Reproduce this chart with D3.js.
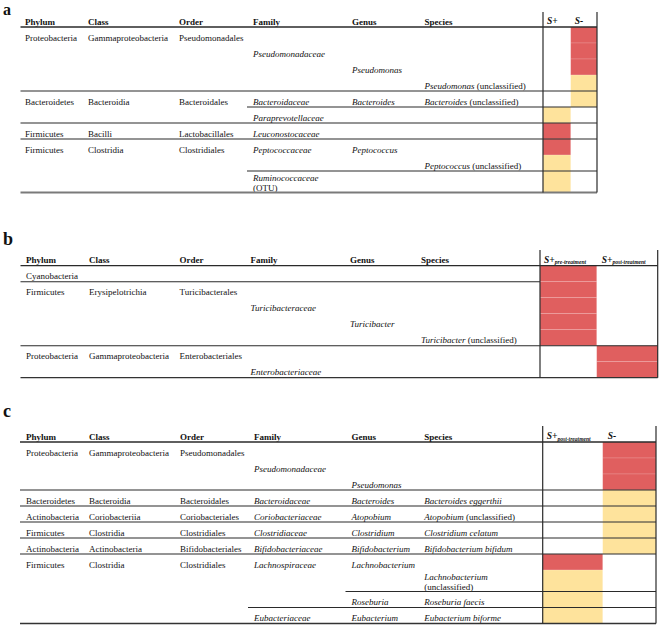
<!DOCTYPE html>
<html><head><meta charset="utf-8">
<script src="https://cdn.jsdelivr.net/npm/d3@7"></script>
<style>
body{margin:0;background:#fff}
svg{display:block}
text{font-family:"Liberation Serif","Times New Roman",Times,serif;fill:#111}
</style>
</head><body>
<svg id="chart" width="660" height="628"></svg>
<script>
// ---------- DATA ----------
const ranks = ["Phylum","Class","Order","Family","Genus","Species"];

// Panel a
const aTaxa = [
  ["Proteobacteria","Gammaproteobacteria","Pseudomonadales","","",""],
  ["","","","Pseudomonadaceae","",""],
  ["","","","","Pseudomonas",""],
  ["","","","","","Pseudomonas (unclassified)"],
  ["Bacteroidetes","Bacteroidia","Bacteroidales","Bacteroidaceae","Bacteroides","Bacteroides (unclassified)"],
  ["","","","Paraprevotellaceae","",""],
  ["Firmicutes","Bacilli","Lactobacillales","Leuconostocaceae","",""],
  ["Firmicutes","Clostridia","Clostridiales","Peptococcaceae","Peptococcus",""],
  ["","","","","","Peptococcus (unclassified)"],
  ["","","","Ruminococcaceae\n(OTU)","",""]
];
const aGroups = ["S+","S-"];
const aGroupSubs = ["",""];
const aSPlus  = [0,0,0,0,0,1,2,2,1,1];   // 1 = yellow, 2 = red
const aSMinus = [2,2,2,1,1,0,0,0,0,0];
const aRules = [[3,0,true],[4,3,true],[5,0,true],[6,0,true],[8,3,true]]; // [after row, from rank, through S columns]

// Panel b
const bTaxa = [
  ["Cyanobacteria","","","","",""],
  ["Firmicutes","Erysipelotrichia","Turicibacterales","","",""],
  ["","","","Turicibacteraceae","",""],
  ["","","","","Turicibacter",""],
  ["","","","","","Turicibacter (unclassified)"],
  ["Proteobacteria","Gammaproteobacteria","Enterobacteriales","","",""],
  ["","","","Enterobacteriaceae","",""]
];
const bGroups = ["S+","S+"];
const bGroupSubs = ["pre-treatment","post-treatment"];
const bPre  = [2,2,2,2,2,0,0];
const bPost = [0,0,0,0,0,2,2];
const bRules = [[0,0,false],[4,0,true]];

// Panel c
const cTaxa = [
  ["Proteobacteria","Gammaproteobacteria","Pseudomonadales","","",""],
  ["","","","Pseudomonadaceae","",""],
  ["","","","","Pseudomonas",""],
  ["Bacteroidetes","Bacteroidia","Bacteroidales","Bacteroidaceae","Bacteroides","Bacteroides eggerthii"],
  ["Actinobacteria","Coriobacteriia","Coriobacteriales","Coriobacteriaceae","Atopobium","Atopobium (unclassified)"],
  ["Firmicutes","Clostridia","Clostridiales","Clostridiaceae","Clostridium","Clostridium celatum"],
  ["Actinobacteria","Actinobacteria","Bifidobacteriales","Bifidobacteriaceae","Bifidobacterium","Bifidobacterium bifidum"],
  ["Firmicutes","Clostridia","Clostridiales","Lachnospiraceae","Lachnobacterium",""],
  ["","","","","","Lachnobacterium\n(unclassified)"],
  ["","","","","Roseburia","Roseburia faecis"],
  ["","","","Eubacteriaceae","Eubacterium","Eubacterium biforme"]
];
const cGroups = ["S+","S-"];
const cGroupSubs = ["post-treatment",""];
const cPost   = [0,0,0,0,0,0,0,2,1,1,1];
const cSMinus = [2,2,2,1,1,1,1,0,0,0,0];
const cRules = [[2,0,true],[3,0,true],[4,0,true],[5,0,true],[6,0,true],[8,4,true],[9,3,true]];

// ---------- DRAW ----------
const RED = "#e05f5f", YELLOW = "#fee39c";
const svg = d3.select("#chart");
const color = d3.scaleOrdinal([1,2],[YELLOW,RED]);

function addText(sel, str, italic) {
  const parts = str.split(/(\([^)]*\))/).filter(p => p.length);
  parts.forEach(p => {
    sel.append("tspan").text(p)
      .attr("font-style", italic && !p.startsWith("(") ? "italic" : "normal");
  });
}

function drawPanel(cfg, taxa, vals, groups, subs, rules) {
  const g = svg.append("g");
  const nLines = taxa.map(r => d3.max(r, s => s ? s.split("\n").length : 1));
  const heights = nLines.map(n => 16 + (n - 1) * 5.5);
  const cum = [0, ...d3.cumsum(heights)];
  const total = cum[cum.length - 1];
  const y = d3.scaleLinear().domain([0, total]).range([cfg.headerLine, cfg.headerLine + total]);
  const x = d3.scaleOrdinal(ranks, cfg.colX);
  const sx = d3.scaleLinear().domain([0,1,2]).range(cfg.sx);
  const bottom = y(total);

  // panel label
  g.append("text").attr("x", 3).attr("y", cfg.labelY)
    .attr("font-size", cfg.labelSize).attr("font-weight", "bold").text(cfg.label);

  // coloured cells
  vals.forEach((col, ci) => {
    g.selectAll(null)
      .data(col.map((v, i) => ({v, i})).filter(d => d.v > 0))
      .join("rect")
      .attr("x", sx(ci)).attr("width", sx(ci + 1) - sx(ci))
      .attr("y", d => y(cum[d.i])).attr("height", d => y(cum[d.i + 1]) - y(cum[d.i]))
      .attr("fill", d => color(d.v))
      .attr("stroke", "rgba(255,255,255,0.22)").attr("stroke-width", 0.7);
  });

  // header labels
  g.selectAll(null).data(ranks).join("text")
    .attr("x", d => x(d)).attr("y", cfg.headerLine - 2.5)
    .attr("font-size", 9).attr("font-weight", "bold").text(d => d);

  groups.forEach((lab, i) => {
    const t = g.append("text").attr("x", sx(i) + cfg.sPad[i]).attr("y", cfg.headerLine - 3)
      .attr("font-size", 9.5).attr("font-weight", "bold").attr("font-style", "italic");
    t.append("tspan").text(lab);
    if (subs[i]) t.append("tspan").text(subs[i]).attr("font-size", 5.6).attr("dy", 1.5);
  });

  // body text
  taxa.forEach((row, i) => {
    row.forEach((s, j) => {
      if (!s) return;
      const lines = s.split("\n");
      const last = y(cum[i + 1]) - (lines.length > 1 ? 1.5 : 2.5);
      lines.forEach((ln, k) => {
        const t = g.append("text").attr("x", x(ranks[j]))
          .attr("y", last - (lines.length - 1 - k) * 10)
          .attr("font-size", 9);
        addText(t, ln, j >= 3);
      });
    });
  });

  // rules
  const lineCol = "#2a2a2a";
  g.append("line").attr("x1", cfg.left).attr("x2", sx(2))
    .attr("y1", cfg.headerLine).attr("y2", cfg.headerLine)
    .attr("stroke", lineCol).attr("stroke-width", 1.3);
  rules.forEach(([r, c, full]) => {
    const yy = y(cum[r + 1]);
    g.append("line")
      .attr("x1", c === 0 ? cfg.left : x(ranks[c]) - 6)
      .attr("x2", full ? sx(2) : sx(0))
      .attr("y1", yy).attr("y2", yy)
      .attr("stroke", lineCol).attr("stroke-width", 1.1);
  });
  g.append("line").attr("x1", cfg.left).attr("x2", sx(2))
    .attr("y1", bottom).attr("y2", bottom)
    .attr("stroke", cfg.bottomColor).attr("stroke-width", cfg.bottomWidth);
  [sx(0), sx(2)].forEach(xx => {
    g.append("line").attr("x1", xx).attr("x2", xx)
      .attr("y1", cfg.top).attr("y2", bottom)
      .attr("stroke", lineCol).attr("stroke-width", 1.2);
  });
}

drawPanel({label:"a", labelY:14.5, labelSize:16, top:12, headerLine:27, left:20.5,
  colX:[25,88,179,253,352,424.5], sx:[543,570.7,597], sPad:[4,4],
  bottomColor:"#7a7a7a", bottomWidth:2},
  aTaxa, [aSPlus, aSMinus], aGroups, aGroupSubs, aRules);

drawPanel({label:"b", labelY:245, labelSize:18, top:250, headerLine:265.7, left:20.5,
  colX:[26,89,179.5,250.5,350,421], sx:[540,596.7,657.7], sPad:[4,5],
  bottomColor:"#333", bottomWidth:1.3},
  bTaxa, [bPre, bPost], bGroups, bGroupSubs, bRules);

drawPanel({label:"c", labelY:417, labelSize:18, top:426, headerLine:442, left:20,
  colX:[26,89,180,254,351.5,424.3], sx:[542.7,602.7,656], sPad:[4,5],
  bottomColor:"#333", bottomWidth:1.3},
  cTaxa, [cPost, cSMinus], cGroups, cGroupSubs, cRules);
</script>
</body></html>
